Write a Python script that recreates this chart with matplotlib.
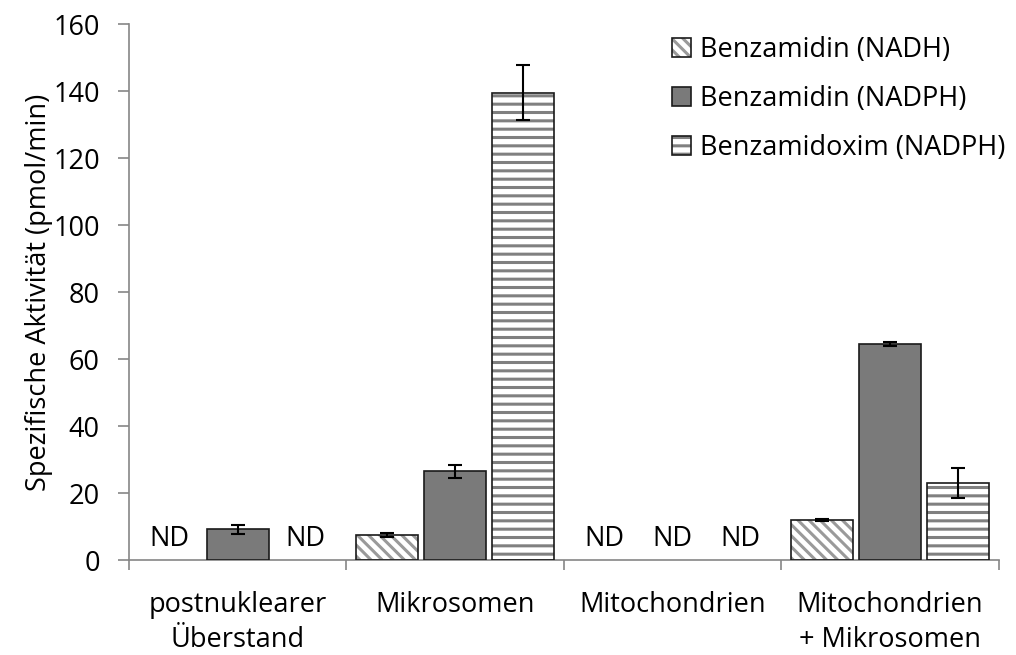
import numpy as np
import matplotlib
matplotlib.use('Agg')
import matplotlib.pyplot as plt

# Fraktionen und Messwerte (pmol/min), None = nicht detektiert
fraktionen = ['postnuklearer\nÜberstand', 'Mikrosomen', 'Mitochondrien', 'Mitochondrien\n+ Mikrosomen']
serien = ['Benzamidin (NADH)', 'Benzamidin (NADPH)', 'Benzamidoxim (NADPH)']
werte_nadh = [None, 7.5, None, 12.0]
fehler_nadh = [0, 0.5, 0, 0.4]
werte_nadph = [9.2, 26.5, None, 64.5]
fehler_nadph = [1.3, 1.9, 0, 0.6]
werte_oxim = [None, 139.5, None, 23.0]
fehler_oxim = [0, 8.2, 0, 4.5]

plt.rcParams['font.family'] = ['Open Sans', 'DejaVu Sans']
plt.rcParams['hatch.linewidth'] = 2.2
fs = 19.5

fig = plt.figure(figsize=(10.16, 6.55), dpi=100)
ax = fig.add_axes([0.127, 0.145, 0.856, 0.818])

x = np.arange(len(fraktionen))
breite = 0.285
abstand = 0.313
achse_grau = '#868686'

stile = [
    dict(face='white', hatch='\\\\\\', hcol='#9a9a9a'),
    dict(face='#7a7a7a', hatch=None, hcol='#7a7a7a'),
    dict(face='white', hatch='--', hcol='#808080'),
]
daten = [(werte_nadh, fehler_nadh), (werte_nadph, fehler_nadph), (werte_oxim, fehler_oxim)]

handles = []
for i, ((werte, fehler), stil) in enumerate(zip(daten, stile)):
    pos = x + (i - 1) * abstand
    da = [k for k, v in enumerate(werte) if v is not None]
    p_da = [pos[k] for k in da]
    h_da = [werte[k] for k in da]
    e_da = [fehler[k] for k in da]
    # Füllung mit Schraffur, darüber schwarzer Rahmen
    fuellung = ax.bar(p_da, h_da, breite, color=stil['face'], edgecolor=stil['hcol'],
                      hatch=stil['hatch'], linewidth=0, zorder=2)
    rahmen = ax.bar(p_da, h_da, breite, fill=False, edgecolor='#1a1a1a', linewidth=1.2, zorder=3)
    handles.append((fuellung, rahmen))
    ax.errorbar(p_da, h_da, yerr=e_da, fmt='none', ecolor='black', elinewidth=1.5,
                capsize=5, capthick=1.5, zorder=4)
    for k, v in enumerate(werte):
        if v is None:
            ax.text(pos[k], 2.0, 'ND', ha='center', va='bottom', fontsize=fs, zorder=4)

ax.set_xlim(-0.5, len(fraktionen) - 0.5)
ax.set_ylim(0, 160)
ax.set_yticks(np.arange(0, 161, 20))
ax.set_xticks(x)
ax.set_xticklabels(fraktionen, linespacing=1.35)
ax.set_xticks(np.arange(-0.5, len(fraktionen)), minor=True)
ax.tick_params(axis='x', which='major', length=0, labelsize=fs, pad=22)
ax.tick_params(axis='x', which='minor', length=7, color=achse_grau, width=1.2)
ax.tick_params(axis='y', length=8, color=achse_grau, width=1.2, labelsize=fs, pad=13)

for s in ['top', 'right']:
    ax.spines[s].set_visible(False)
for s in ['left', 'bottom']:
    ax.spines[s].set_color(achse_grau)
    ax.spines[s].set_linewidth(1.2)

ax.set_ylabel('Spezifische Aktivität (pmol/min)', fontsize=fs, labelpad=0)

ax.legend(handles, serien, loc='upper left', bbox_to_anchor=(0.637, 0.982),
          bbox_transform=fig.transFigure, frameon=False, fontsize=fs,
          handlelength=0.7, handleheight=0.7, handletextpad=0.35, labelspacing=0.78)

fig.savefig('out.png', dpi=100)
